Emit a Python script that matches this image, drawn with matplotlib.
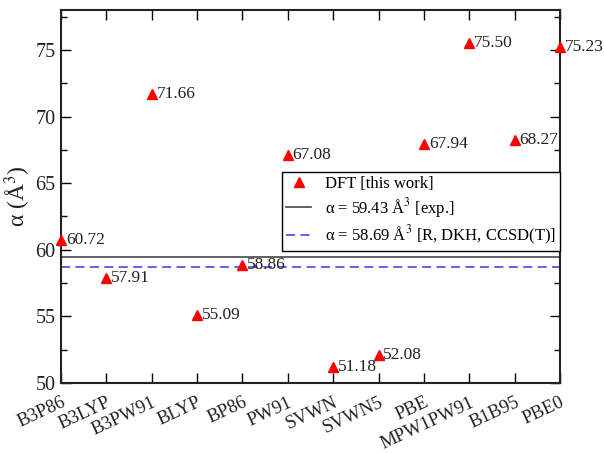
import matplotlib
matplotlib.use("Agg")
import matplotlib.pyplot as plt
from matplotlib.ticker import MultipleLocator

plt.rcParams['font.family'] = ['Liberation Serif', 'DejaVu Serif']
plt.rcParams['mathtext.fontset'] = 'stix'

methods = ["B3P86", "B3LYP", "B3PW91", "BLYP", "BP86", "PW91", "SVWN", "SVWN5",
           "PBE", "MPW1PW91", "B1B95", "PBE0"]
values = [60.72, 57.91, 71.66, 55.09, 58.86, 67.08, 51.18, 52.08, 67.94, 75.50, 68.27, 75.23]
exp_value = 59.43
ccsd_value = 58.69

fig = plt.figure(figsize=(6.04, 4.53), dpi=100)
ax = fig.add_axes([61/604, 1 - 383/453, 499/604, 373/453])

x = list(range(len(methods)))
ax.plot(x, values, linestyle='none', marker='^', color='red', markersize=6.5,
        label='DFT [this work]', clip_on=False, zorder=5)
ax.axhline(exp_value, color='#555555', lw=1.3, label='α = 59.43 Å$^3$ [exp.]')
ax.axhline(ccsd_value, color='#5555ee', lw=1.3, ls=(0, (5, 3)),
           label='α = 58.69 Å$^3$ [R, DKH, CCSD(T)]')

for xi, v in zip(x, values):
    ax.annotate(f"{v:.2f}", (xi, v), xytext=(3.5, 0), textcoords='offset points',
                va='center', ha='left', fontsize=12.5, color='#222222',
                annotation_clip=False)

ax.set_xlim(0, len(methods) - 1)
ax.set_ylim(50, 78)
ax.set_xticks(x)
ax.set_xticklabels(methods, rotation=25, ha='right', rotation_mode='anchor', fontsize=13.5)
ax.yaxis.set_major_locator(MultipleLocator(5))
ax.yaxis.set_minor_locator(MultipleLocator(2.5))
ax.tick_params(axis='both', which='major', direction='in', length=7, width=1,
               top=True, right=True, labelcolor='#222222')
ax.tick_params(axis='y', which='major', labelsize=14.5, pad=4)
ax.tick_params(axis='y', which='minor', direction='in', length=4, width=1, right=True)
ax.tick_params(axis='x', which='major', pad=8)
for s in ax.spines.values():
    s.set_linewidth(1.5)
    s.set_color('#222222')

ax.set_ylabel('α (Å$^3$)', fontsize=17, color='#222222', labelpad=2)

leg = ax.legend(loc='upper right', bbox_to_anchor=(1.0, 0.566), fontsize=12,
                frameon=True, fancybox=False, framealpha=1, edgecolor='black',
                handlelength=1.5, borderpad=0.25, labelspacing=0.22, borderaxespad=0,
                handletextpad=0.8)
leg.get_frame().set_linewidth(1.0)

fig.savefig("out.png", dpi=100)
